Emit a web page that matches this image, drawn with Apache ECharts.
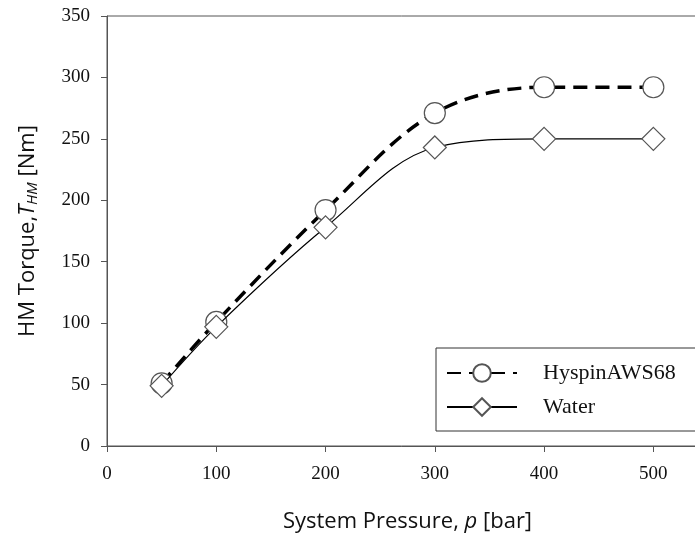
<!DOCTYPE html>
<html><head><meta charset="utf-8">
<script src="https://cdn.jsdelivr.net/npm/echarts@6/dist/echarts.min.js"></script>
<style>html,body{margin:0;padding:0;background:#fff}#c{width:695px;height:536px}</style>
</head><body><div id="c"></div>
<script>
const pressure = [50, 100, 200, 300, 400, 500];
const hyspin = [51, 101, 192, 271, 292, 292];
const water = [49, 97, 178, 243, 250, 250];
const seriesNames = ['HyspinAWS68', 'Water'];

const chart = echarts.init(document.getElementById('c'), null, {renderer: 'canvas'});
const serif = '"Liberation Serif", "DejaVu Serif", serif';
const sans = '"Open Sans", "Liberation Sans", sans-serif';
chart.setOption({
  animation: false,
  backgroundColor: '#fff',
  grid: {left: 107, top: 16, width: 601, height: 430, show: true, borderColor: '#555', borderWidth: 1,
         backgroundColor: 'transparent', outerBoundsMode: 'none', containLabel: false},
  xAxis: {
    type: 'value', min: 0, max: 550, interval: 100,
    axisLine: {show: true, lineStyle: {color: '#555', width: 1}},
    axisTick: {show: true, inside: false, length: 6, lineStyle: {color: '#555'}},
    axisLabel: {color: '#111', fontFamily: serif, fontSize: 19, margin: 19, formatter: v => v > 500 ? '' : v},
    splitLine: {show: false},
    name: '{n|System Pressure, }{i|p}{n| [bar]}',
    nameLocation: 'middle', nameGap: 65,
    nameTextStyle: {rich: {
      n: {fontFamily: sans, fontSize: 22, color: '#111'},
      i: {fontFamily: sans, fontSize: 22, color: '#111', fontStyle: 'italic'}
    }}
  },
  yAxis: {
    type: 'value', min: 0, max: 350, interval: 50,
    axisLine: {show: true, lineStyle: {color: '#555', width: 1}},
    axisTick: {show: true, inside: false, length: 6, lineStyle: {color: '#555'}},
    axisLabel: {color: '#111', fontFamily: serif, fontSize: 19, margin: 17},
    splitLine: {show: false},
    name: '{n|HM Torque,}{i|T}{s|HM}{n| [Nm]}',
    nameLocation: 'middle', nameGap: 67,
    nameTextStyle: {rich: {
      n: {fontFamily: sans, fontSize: 22, color: '#111'},
      i: {fontFamily: sans, fontSize: 22, color: '#111', fontStyle: 'italic'},
      s: {fontFamily: sans, fontSize: 15, color: '#111', fontStyle: 'italic', padding: [10, 0, 0, 0]}
    }}
  },
  legend: {
    orient: 'vertical', left: 436, top: 348,
    data: seriesNames,
    itemWidth: 70, itemHeight: 22, itemGap: 12,
    padding: [14, 120, 13, 10],
    borderColor: '#333', borderWidth: 1, backgroundColor: '#fff',
    textStyle: {fontFamily: serif, fontSize: 22, color: '#111', padding: [0, 0, 0, 21]}
  },
  series: [
    {
      name: seriesNames[0], type: 'line', smooth: 0.35,
      data: pressure.map((p, i) => [p, hyspin[i]]),
      symbol: 'circle', symbolSize: 21,
      lineStyle: {color: '#000', width: 3.5, type: [14, 8]},
      itemStyle: {color: '#fff', borderColor: '#555', borderWidth: 1.2},
      z: 3
    },
    {
      name: seriesNames[1], type: 'line', smooth: 0.35,
      data: pressure.map((p, i) => [p, water[i]]),
      symbol: 'diamond', symbolSize: [23, 23],
      lineStyle: {color: '#000', width: 1.2},
      itemStyle: {color: '#fff', borderColor: '#555', borderWidth: 1.2},
      z: 4
    }
  ]
});
</script></body></html>
